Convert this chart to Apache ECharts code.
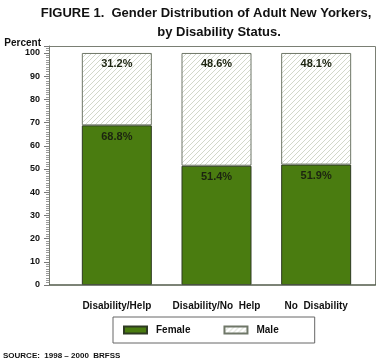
<!DOCTYPE html>
<html><head><meta charset="utf-8">
<script src="https://cdn.jsdelivr.net/npm/echarts@6/dist/echarts.min.js"></script>
<style>html,body{margin:0;padding:0;background:#fff}#c{width:386px;height:362px}</style>
</head><body><div id="c"></div>
<script>
const categories = ['Disability/Help', 'Disability/No  Help', 'No  Disability'];
const female = [68.8, 51.4, 51.9];
const male = [31.2, 48.6, 48.1];
const yTicks = [0, 10, 20, 30, 40, 50, 60, 70, 80, 90, 100];

function hatch() {
  const c = document.createElement('canvas');
  c.width = 5; c.height = 5;
  const g = c.getContext('2d');
  g.fillStyle = '#ffffff'; g.fillRect(0, 0, 5, 5);
  g.strokeStyle = '#d2d8ca'; g.lineWidth = 1;
  g.beginPath();
  g.moveTo(-1, 6); g.lineTo(6, -1);
  g.moveTo(-1, 1); g.lineTo(1, -1);
  g.moveTo(4, 6); g.lineTo(6, 4);
  g.stroke();
  return c;
}
const FONT = '"Liberation Sans", Arial, sans-serif';
const chart = echarts.init(document.getElementById('c'), null, {renderer: 'canvas'});
chart.setOption({
  animation: false,
  textStyle: {fontFamily: FONT},
  title: [{
    text: 'FIGURE 1.  Gender Distribution of Adult New Yorkers,',
    left: 201, top: 2, textAlign: 'center',
    textStyle: {fontFamily: FONT, fontSize: 13, fontWeight: 'bold', color: '#111'}
  }, {
    text: 'by Disability Status.',
    left: 214, top: 21, textAlign: 'center',
    textStyle: {fontFamily: FONT, fontSize: 13, fontWeight: 'bold', color: '#111'}
  }],
  grid: {left: 67, right: 20, top: 46, bottom: 77},
  legend: {
    left: 113, top: 317,
    data: ['Female', 'Male'],
    icon: 'rect',
    itemWidth: 23, itemHeight: 7, itemGap: 33,
    padding: [8, 36, 8, 10],
    borderColor: '#666', borderWidth: 1,
    textStyle: {fontFamily: FONT, fontSize: 10, fontWeight: 'bold', color: '#111', padding: [0, 0, 0, 4]}
  },
  xAxis: {
    type: 'category', data: categories,
    axisLine: {show: false}, axisTick: {show: false},
    axisLabel: {interval: 0, fontFamily: FONT, fontSize: 10, fontWeight: 'bold', color: '#111', margin: 16}
  },
  yAxis: {
    type: 'value', min: 0, max: 103, interval: 10, offset: 18,
    name: 'Percent', nameLocation: 'end', nameGap: -2,
    nameTextStyle: {fontFamily: FONT, fontSize: 10, fontWeight: 'bold', color: '#111', align: 'right', padding: [0, 8, 0, 0]},
    axisLine: {show: true, lineStyle: {color: '#777'}},
    axisTick: {show: true, length: 5, lineStyle: {color: '#777'}},
    minorTick: {show: true, splitNumber: 10, length: 3, lineStyle: {color: '#999'}},
    splitLine: {show: false},
    axisLabel: {
      fontFamily: FONT, fontSize: 9, fontWeight: 'bold', color: '#111', margin: 9,
      formatter: v => yTicks.includes(v) ? String(v) : ''
    }
  },
  graphic: [{
    type: 'rect', z: 100, silent: true,
    shape: {x: 49.5, y: 46.5, width: 326, height: 238.5},
    style: {fill: 'none', stroke: '#7a7f74', lineWidth: 1}
  }, {
    type: 'line', z: 101, silent: true,
    shape: {x1: 49, y1: 285, x2: 376, y2: 285},
    style: {stroke: '#3f4a35', lineWidth: 1.2}
  }, {
    type: 'text', left: 3, top: 352,
    style: {text: 'SOURCE:  1998 – 2000  BRFSS', fontFamily: FONT, fontSize: 8, fontWeight: 'bold', fill: '#111'}
  }],
  series: [{
    name: 'Female', type: 'bar', stack: 's', data: female, barWidth: 70,
    itemStyle: {color: '#4a7c10', borderColor: '#2e3a22', borderWidth: 1},
    label: {show: true, position: 'insideTop', distance: 6, formatter: p => p.value.toFixed(1) + '%',
      fontFamily: FONT, fontSize: 11, fontWeight: 'bold', color: '#1c2410'}
  }, {
    name: 'Male', type: 'bar', stack: 's', data: male, barWidth: 70,
    itemStyle: {color: {image: hatch(), repeat: 'repeat'}, borderColor: '#6f7768', borderWidth: 1},
    label: {show: true, position: 'insideTop', distance: 6, formatter: p => p.value.toFixed(1) + '%',
      fontFamily: FONT, fontSize: 11, fontWeight: 'bold', color: '#1c2410'}
  }]
});
</script></body></html>
